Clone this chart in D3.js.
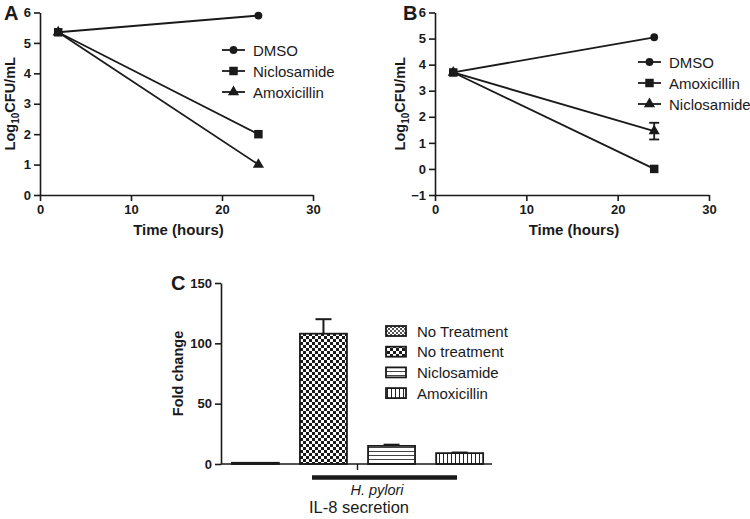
<!DOCTYPE html>
<html><head><meta charset="utf-8">
<script src="https://cdn.jsdelivr.net/npm/d3@7"></script>
<style>body{margin:0;background:#fff}svg{display:block}text{font-family:"Liberation Sans",Arial,sans-serif;fill:#1a1a1a}</style>
</head><body><svg id="c" width="750" height="519"></svg>
<script>
// Panel A data
const timesA = [2, 24];
const seriesA = ["DMSO", "Niclosamide", "Amoxicillin"];
const valuesA = [[5.35, 5.9], [5.35, 2.0], [5.35, 1.0]];
const symbolsA = ["circle", "square", "triangle"];
// Panel B data
const timesB = [2, 24];
const seriesB = ["DMSO", "Amoxicillin", "Niclosamide"];
const valuesB = [[3.7, 5.05], [3.7, 0.0], [3.7, 1.45]];
const errorsB = [[0, 0], [0, 0], [0, 0.32]];
const symbolsB = ["circle", "square", "triangle"];
// Panel C data
const barCats = ["No Treatment", "No treatment", "Niclosamide", "Amoxicillin"];
const barVals = [1, 108, 15, 9];
const barErrs = [0, 12, 1, 0.5];
const ticksA = [0, 1, 2, 3, 4, 5, 6];
const ticksB = [-1, 0, 1, 2, 3, 4, 5, 6];
const ticksX = [0, 10, 20, 30];
const ticksC = [0, 50, 100, 150];

const svg = d3.select("#c");
const ink = "#1a1a1a";

// patterns
const defs = svg.append("defs");
function pat(id, w, h, draw) {
  const p = defs.append("pattern").attr("id", id).attr("patternUnits", "userSpaceOnUse").attr("width", w).attr("height", h);
  p.append("rect").attr("width", w).attr("height", h).attr("fill", "#fff");
  draw(p);
}
pat("pFine", 4, 4, p => { p.append("rect").attr("width", 2).attr("height", 2).attr("fill", "#555"); p.append("rect").attr("x", 2).attr("y", 2).attr("width", 2).attr("height", 2).attr("fill", "#555"); });
pat("pCheck", 6, 6, p => { p.append("rect").attr("width", 3).attr("height", 3).attr("fill", ink); p.append("rect").attr("x", 3).attr("y", 3).attr("width", 3).attr("height", 3).attr("fill", ink); });
pat("pHor", 4, 4, p => { p.append("rect").attr("y", 3).attr("width", 4).attr("height", 1).attr("fill", "#444"); });
pat("pVer", 4, 4, p => { p.append("rect").attr("x", 3).attr("width", 1).attr("height", 4).attr("fill", "#222"); });
const patterns = ["url(#pFine)", "url(#pCheck)", "url(#pHor)", "url(#pVer)"];

const symMap = { circle: d3.symbolCircle, square: d3.symbolSquare, triangle: d3.symbolTriangle };
const symSize = { circle: 48, square: 72, triangle: 54 };

function styleAxis(g) {
  g.selectAll("path,line").attr("stroke", ink).attr("stroke-width", 1.6);
  g.selectAll("text").attr("font-size", 13).attr("font-weight", "bold").attr("fill", ink);
}

function linePanel(opts) {
  const { x0, x1, yTop, yBot, yDomain, yTicks, times, series, values, errors, symbols, letter, letterX, legX, legY, titleX } = opts;
  const x = d3.scaleLinear().domain([0, 30]).range([x0, x1]);
  const y = d3.scaleLinear().domain(yDomain).range([yBot, yTop]);
  svg.append("g").attr("transform", `translate(0,${yBot})`)
    .call(d3.axisBottom(x).tickValues(ticksX).tickFormat(d3.format("d")).tickSize(6).tickSizeOuter(0).tickPadding(4)).call(styleAxis);
  svg.append("g").attr("transform", `translate(${x0},0)`)
    .call(d3.axisLeft(y).tickValues(yTicks).tickFormat(d3.format("d")).tickSize(6).tickSizeOuter(0).tickPadding(3)).call(styleAxis);
  const line = d3.line().x((d, i) => x(times[i])).y(d => y(d));
  values.forEach((vals, s) => {
    svg.append("path").attr("d", line(vals)).attr("fill", "none").attr("stroke", ink).attr("stroke-width", 1.8);
    vals.forEach((v, i) => {
      const e = errors ? errors[s][i] : 0;
      if (e > 0) {
        const g = svg.append("g").attr("stroke", ink).attr("stroke-width", 1.8);
        g.append("line").attr("x1", x(times[i])).attr("x2", x(times[i])).attr("y1", y(v - e)).attr("y2", y(v + e));
        [v - e, v + e].forEach(t => g.append("line").attr("x1", x(times[i]) - 5).attr("x2", x(times[i]) + 5).attr("y1", y(t)).attr("y2", y(t)));
      }
      svg.append("path").attr("d", d3.symbol(symMap[symbols[s]], symSize[symbols[s]])())
        .attr("transform", `translate(${x(times[i])},${y(v)})`).attr("fill", ink);
    });
  });
  // legend
  series.forEach((name, s) => {
    const yy = legY + s * 21;
    svg.append("line").attr("x1", legX).attr("x2", legX + 23).attr("y1", yy).attr("y2", yy).attr("stroke", ink).attr("stroke-width", 1.8);
    svg.append("path").attr("d", d3.symbol(symMap[symbols[s]], symSize[symbols[s]])())
      .attr("transform", `translate(${legX + 11.5},${yy})`).attr("fill", ink);
    svg.append("text").attr("x", legX + 31).attr("y", yy + 5.5).attr("font-size", 15).text(name);
  });
  svg.append("text").attr("x", (x0 + x1) / 2 + 2).attr("y", yBot + 40).attr("text-anchor", "middle")
    .attr("font-size", 15).attr("font-weight", "bold").text("Time (hours)");
  const t = svg.append("text").attr("transform", `translate(${titleX},${(yTop + yBot) / 2}) rotate(-90)`)
    .attr("text-anchor", "middle").attr("font-size", 14.5).attr("font-weight", "bold");
  t.append("tspan").text("Log");
  t.append("tspan").attr("font-size", 10).attr("dy", 4).text("10");
  t.append("tspan").attr("dy", -4).text("CFU/mL");
  svg.append("text").attr("x", letterX).attr("y", yTop + 7).attr("font-size", 20).attr("font-weight", "bold").text(letter);
}

linePanel({ x0: 40, x1: 313, yTop: 12.5, yBot: 195, yDomain: [0, 6], yTicks: ticksA, times: timesA, series: seriesA, values: valuesA, symbols: symbolsA, letter: "A", letterX: 4, legX: 222, legY: 50, titleX: 15 });
linePanel({ x0: 435, x1: 709, yTop: 12.5, yBot: 195, yDomain: [-1, 6], yTicks: ticksB, times: timesB, series: seriesB, values: valuesB, errors: errorsB, symbols: symbolsB, letter: "B", letterX: 403, legX: 638, legY: 62, titleX: 405 });

// Panel C
const cx0 = 221, cx1 = 492, cTop = 283, cBot = 464;
const yc = d3.scaleLinear().domain([0, 150]).range([cBot, cTop]);
const xc = d3.scaleBand().domain(barCats).range([cx0 + 2, cx1]).paddingInner(0.31).paddingOuter(0.13);
barCats.forEach((c, i) => {
  const v = barVals[i], e = barErrs[i];
  if (e > 0) {
    const cxm = xc(c) + xc.bandwidth() / 2;
    svg.append("line").attr("x1", cxm).attr("x2", cxm).attr("y1", yc(v)).attr("y2", yc(v + e)).attr("stroke", ink).attr("stroke-width", 2);
    svg.append("line").attr("x1", cxm - 8).attr("x2", cxm + 8).attr("y1", yc(v + e)).attr("y2", yc(v + e)).attr("stroke", ink).attr("stroke-width", 2);
  }
  svg.append("rect").attr("x", xc(c)).attr("y", yc(v)).attr("width", xc.bandwidth()).attr("height", yc(0) - yc(v))
    .attr("fill", patterns[i]).attr("stroke", ink).attr("stroke-width", 1.8);
});
svg.append("g").attr("transform", `translate(${cx0},0)`)
  .call(d3.axisLeft(yc).tickValues(ticksC).tickFormat(d3.format("d")).tickSize(6).tickSizeOuter(0).tickPadding(3)).call(styleAxis);
svg.append("line").attr("x1", cx0).attr("x2", cx1).attr("y1", cBot).attr("y2", cBot).attr("stroke", ink).attr("stroke-width", 1.6);
const midX = (xc(barCats[1]) + xc.bandwidth() + xc(barCats[2])) / 2;
svg.append("line").attr("x1", midX).attr("x2", midX).attr("y1", cBot).attr("y2", cBot + 6).attr("stroke", ink).attr("stroke-width", 1.4);
svg.append("line").attr("x1", 312).attr("x2", 457).attr("y1", 477.5).attr("y2", 477.5).attr("stroke", ink).attr("stroke-width", 4.5);
svg.append("text").attr("x", 377).attr("y", 495).attr("text-anchor", "middle").attr("font-size", 14.5).attr("font-style", "italic").text("H. pylori");
svg.append("text").attr("x", 359).attr("y", 513).attr("text-anchor", "middle").attr("font-size", 16.5).text("IL-8 secretion");
svg.append("text").attr("transform", `translate(183,${(cTop + cBot) / 2}) rotate(-90)`).attr("text-anchor", "middle")
  .attr("font-size", 14.5).attr("font-weight", "bold").text("Fold change");
svg.append("text").attr("x", 171).attr("y", 290).attr("font-size", 20).attr("font-weight", "bold").text("C");
barCats.forEach((c, i) => {
  const yy = 331 + i * 20.7;
  svg.append("rect").attr("x", 386).attr("y", yy - 5).attr("width", 20).attr("height", 10).attr("fill", patterns[i]).attr("stroke", ink).attr("stroke-width", 1.8);
  svg.append("text").attr("x", 417).attr("y", yy + 5.5).attr("font-size", 15).text(c);
});
</script></body></html>
